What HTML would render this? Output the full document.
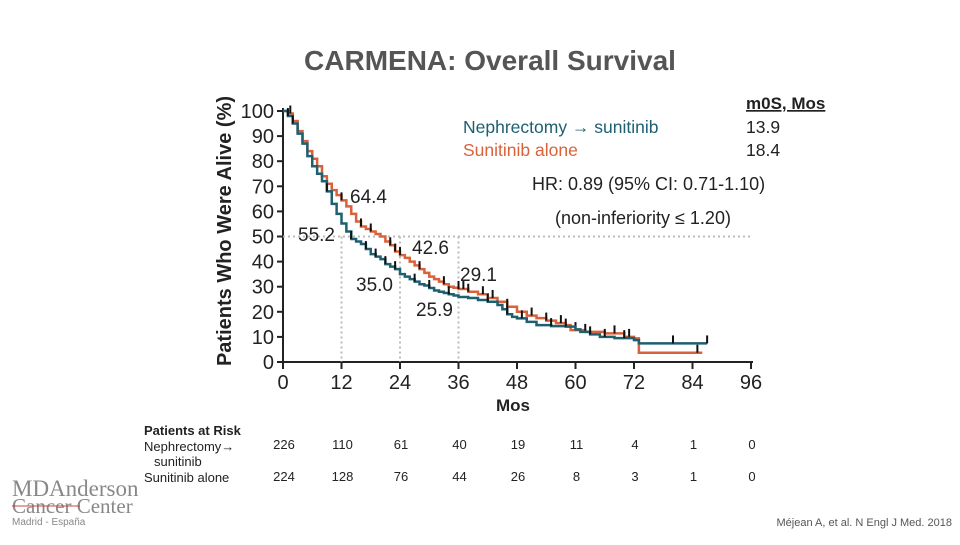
<!DOCTYPE html>
<html><head><meta charset="utf-8"><style>
body{margin:0;background:#fff;}
svg text{font-family:"Liberation Sans",sans-serif;}
</style></head><body>
<svg width="960" height="540" viewBox="0 0 960 540" xmlns="http://www.w3.org/2000/svg">
<text x="490" y="70" text-anchor="middle" font-size="28" font-weight="bold" fill="#555">CARMENA: Overall Survival</text>
<text transform="translate(231,231) rotate(-90)" text-anchor="middle" font-size="20" font-weight="bold" fill="#222">Patients Who Were Alive (%)</text>
<text x="513" y="411" text-anchor="middle" font-size="17" font-weight="bold" fill="#222">Mos</text>
<g id="axes"></g>
<g id="guides"></g>
<g id="curves"></g>
<g>
<text x="463" y="133" font-size="17.5" fill="#1e6070">Nephrectomy → sunitinib</text>
<text x="463" y="156" font-size="17.5" fill="#d9623a">Sunitinib alone</text>
<text x="746" y="109" font-size="17" font-weight="bold" fill="#222" text-decoration="underline">m0S, Mos</text>
<text x="746" y="133" font-size="17.5" fill="#222">13.9</text>
<text x="746" y="156" font-size="17.5" fill="#222">18.4</text>
<text x="532" y="190" font-size="18" fill="#222">HR: 0.89 (95% CI: 0.71-1.10)</text>
<text x="555" y="224" font-size="18" fill="#222">(non-inferiority ≤ 1.20)</text>
</g>
<g font-size="19" fill="#222">
<text x="350" y="203">64.4</text>
<text x="298" y="241">55.2</text>
<text x="412" y="254">42.6</text>
<text x="356" y="291">35.0</text>
<text x="460" y="281">29.1</text>
<text x="416" y="316">25.9</text>
</g>
<g font-size="13" fill="#222">
<text x="144" y="435" font-weight="bold">Patients at Risk</text>
<text x="144" y="451">Nephrectomy→</text>
<text x="154" y="466">sunitinib</text>
<text x="144" y="482">Sunitinib alone</text>
<g id="riskNums"></g>
</g>
<g fill="#888">
<text x="12" y="496" font-size="23" style="font-family:'Liberation Serif',serif">MDAnderson</text>
<text x="12" y="513" font-size="21" style="font-family:'Liberation Serif',serif">Cancer Center</text>
<line x1="12" y1="506" x2="80" y2="506" stroke="#c44" stroke-width="1"/>
<text x="12" y="525" font-size="10">Madrid - España</text>
</g>
<text x="952" y="526" text-anchor="end" font-size="11" fill="#555">Méjean A, et al. N Engl J Med. 2018</text>
</svg>
<script>
const xTicks=[0,12,24,36,48,60,72,84,96];
const yTicks=[0,10,20,30,40,50,60,70,80,90,100];
const nephMonths=[0,1,2,3,4,5,6,7,8,9,10,11,12,13,14,15,16,17,18,19,20,21,22,23,24,25,26,27,28,29,30,31,32,33,34,35,36,38,40,42,44,45,46,47,48,50,52,55,58,60,61,63,65,68,72,73,87];
const nephSurv=[100,98,95,91,87,82,78,75,72,68,63,59,55.2,52,49,48,47,45,43,42,41,39,38,37,35,34,33,32,31,30.5,29.5,28.5,28,27.5,27,26.5,25.9,25.5,24.7,24,22.7,21,19,18,17.4,16,14.7,14.3,14.1,13,12,11,10,9.5,8.7,7.4,7.4];
const sunMonths=[0,1,2,3,4,5,6,7,8,9,10,11,12,13,14,15,16,17,18,19,20,21,22,23,24,25,26,27,28,29,30,31,32,33,34,35,36,38,40,42,44,46,48,50,52,54,56,58,59,62,66,70,72,73,86];
const sunSurv=[100,99,96,92,88,84,81,78,74,71,68.5,66.5,64.4,62,59,56,54,53,52,51,50,48,46.5,44,42.6,41.5,40,38.5,37,35.5,34,33,32,31,30,29.6,29.1,28,27,25.5,24,22,20,18.5,17.5,16.5,15.5,14.7,12.7,12,11.4,10,9.4,3.7,3.7];
const nephCensor=[1,2,9,14,17,19,21,23,27,30,34,42,46,49,55,58,63,66,70,80,87];
const sunCensor=[1.5,4,12,16,18,22,23,24,28,33,36,37,38,41,43,46,51,54,57,60,62,68,71,85];
const riskNeph=[226,110,61,40,19,11,4,1,0];
const riskSun=[224,128,76,44,26,8,3,1,0];
const X0=283,X1=751,Y0=362,Y1=111;
const xs=m=>X0+(X1-X0)*m/96, ys=v=>Y0-(Y0-Y1)*v/100;
const NS='http://www.w3.org/2000/svg';
function mk(t,a,p){const e=document.createElementNS(NS,t);for(const k in a)e.setAttribute(k,a[k]);p.appendChild(e);return e;}
const ax=document.getElementById('axes');
const yl=mk('line',{x1:X0,y1:Y1-3,x2:X0,y2:Y0,stroke:'#222','stroke-width':2},ax);


const xl=mk('line',{x1:X0,y1:Y0,x2:X1+2,y2:Y0,stroke:'#222','stroke-width':2},ax);


yTicks.forEach(v=>{mk('line',{x1:X0-6,y1:ys(v),x2:X0,y2:ys(v),stroke:'#222','stroke-width':2},ax);
const t=mk('text',{x:X0-9,y:ys(v)+7,'text-anchor':'end','font-size':20,fill:'#222'},ax);t.textContent=v;

});
xTicks.forEach(m=>{mk('line',{x1:xs(m),y1:Y0,x2:xs(m),y2:Y0+7,stroke:'#222','stroke-width':2},ax);
const t=mk('text',{x:xs(m),y:389,'text-anchor':'middle','font-size':20,fill:'#222'},ax);t.textContent=m;

});
const g=document.getElementById('guides');
const d={stroke:'#bbb','stroke-width':2,'stroke-dasharray':'2,3'};
mk('line',Object.assign({x1:X0,y1:ys(50),x2:X1,y2:ys(50)},d),g);
[12,24,36].forEach(m=>mk('line',Object.assign({x1:xs(m),y1:ys(50),x2:xs(m),y2:Y0},d),g));
const c=document.getElementById('curves');
function stepVal(ms,vs,m){let v=vs[0];for(let i=0;i<ms.length;i++){if(ms[i]<=m)v=vs[i];}return v;}
function draw(ms,vs,cen,col,name){
let p='M'+xs(ms[0])+','+ys(vs[0]);
for(let i=1;i<ms.length;i++){p+=' H'+xs(ms[i])+' V'+ys(vs[i]);}
const e=mk('path',{d:p,fill:'none',stroke:col,'stroke-width':2.5},c);


cen.forEach(m=>{const v=stepVal(ms,vs,m);const t=mk('line',{x1:xs(m),y1:ys(v)-8,x2:xs(m),y2:ys(v),stroke:'#111','stroke-width':2},c);

});}
draw(sunMonths,sunSurv,sunCensor,'#d9623a','sunitinib-alone-curve');
draw(nephMonths,nephSurv,nephCensor,'#1e6070','nephrectomy-curve');
const r=document.getElementById('riskNums');
xTicks.forEach((m,i)=>{
const a=mk('text',{x:xs(m)+1,y:449,'text-anchor':'middle'},r);a.textContent=riskNeph[i];


const b=mk('text',{x:xs(m)+1,y:481,'text-anchor':'middle'},r);b.textContent=riskSun[i];

});
</script>
</body></html>
